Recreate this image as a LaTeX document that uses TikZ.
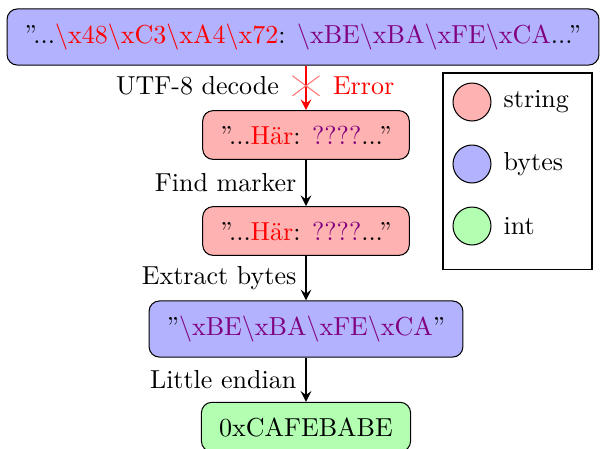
\documentclass[tikz,border=0pt]{standalone}
\usetikzlibrary{shapes.misc}
\definecolor{bytecol}{rgb}{0.5,0,0.5}
\newcommand{\bs}{\textbackslash}
\begin{document}
\begin{tikzpicture}[x=0.3846pt, y={(0pt,-0.3846pt)},
  box/.style={draw, rounded corners=4pt, inner xsep=6.8pt, inner ysep=5.8pt},
  strnode/.style={box, fill=red!30},
  bytnode/.style={box, fill=blue!30},
  intnode/.style={box, fill=green!30},
  flow/.style={-stealth, thick},
  dot/.style={circle, draw, minimum size=14.6pt, inner sep=0pt},
  leglab/.style={right, inner sep=4.5pt}]
\useasboundingbox (0,0) rectangle (600,448);
\node[bytnode] (top) at (303,37) {''...\textcolor{red}{\bs x48\bs xC3\bs xA4\bs x72}: \textcolor{bytecol}{\bs xBE\bs xBA\bs xFE\bs xCA}...''};
\node[strnode] (n2) at (306,135) {''...\textcolor{red}{Här}: \textcolor{bytecol}{????}...''};
\node[strnode] (n3) at (306,231) {''...\textcolor{red}{Här}: \textcolor{bytecol}{????}...''};
\node[bytnode] (n4) at (306,329) {''\textcolor{bytecol}{\bs xBE\bs xBA\bs xFE\bs xCA}''};
\node[intnode] (n5) at (306,427) {0xCAFEBABE};
\draw[flow, red] (top.south -| n2.north) -- node[cross out, draw=red!55, thin, minimum width=10pt, minimum height=7.3pt, yshift=0.8pt] (x) {} (n2.north);
\node[left, inner sep=5pt] at (x.west) {UTF-8 decode};
\node[right, inner sep=5pt, text=red] at (x.east) {Error};
\draw[flow] (n2) -- node[left] {Find marker} (n3);
\draw[flow] (n3) -- node[left] {Extract bytes} (n4);
\draw[flow] (n4) -- node[left] {Little endian} (n5);
\node[draw, minimum width=57.3pt, minimum height=75.4pt] (legend) at (517.5,171) {};
\node[dot, fill=red!30] (c1) at (472,102) {};
\node[dot, fill=blue!30] (c2) at (472,164) {};
\node[dot, fill=green!30] (c3) at (472,226) {};
\node[leglab] at (c1.east) {string};
\node[leglab] at (c2.east) {bytes};
\node[leglab] at (c3.east) {int};
\end{tikzpicture}
\end{document}
